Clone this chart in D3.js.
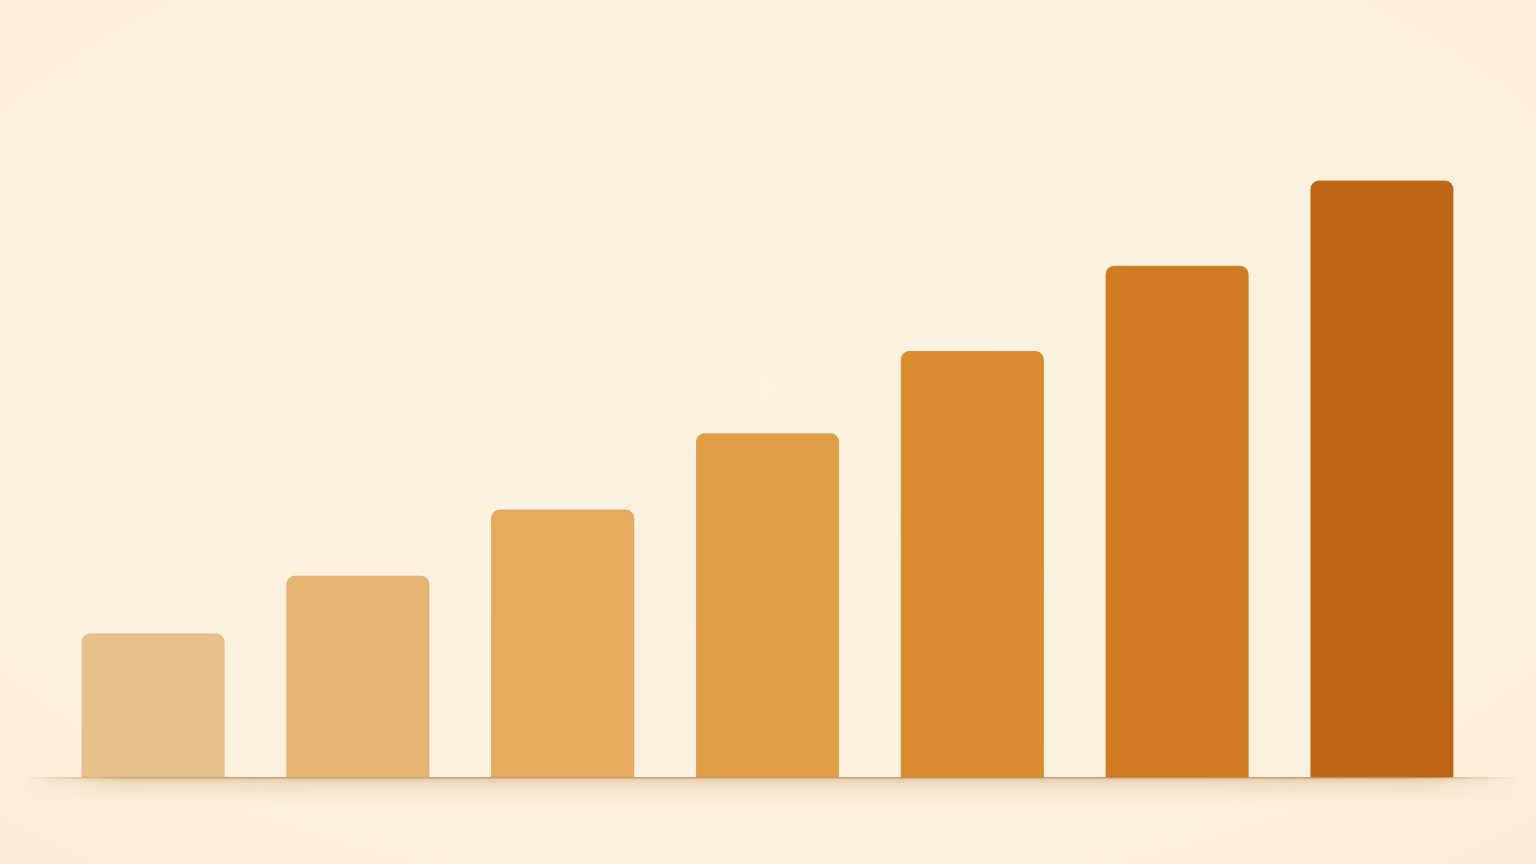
<!DOCTYPE html>
<html>
<head>
<meta charset="utf-8">
<script src="https://cdn.jsdelivr.net/npm/d3@7"></script>
<style>
html,body{margin:0;padding:0;background:#fdf1df;overflow:hidden;}
svg{display:block;}
</style>
</head>
<body>
<svg id="chart" width="1536" height="864"></svg>
<script>
const categories = ["A","B","C","D","E","F","G"];
const values = [24.0, 33.7, 44.8, 57.6, 71.4, 85.7, 100];
const colors = ["#e8c189","#e7b673","#e5aa5b","#e29e47","#da8b2e","#d07c21","#bf6614"];

const W = 1536, H = 864;
const svg = d3.select("#chart");
const defs = svg.append("defs");

// background with very soft vignette
const rg = defs.append("radialGradient").attr("id","bg").attr("cx","50%").attr("cy","45%").attr("r","75%");
rg.append("stop").attr("offset","0%").attr("stop-color","#fdf2e1");
rg.append("stop").attr("offset","75%").attr("stop-color","#fcf0de");
rg.append("stop").attr("offset","100%").attr("stop-color","#faecd8");
svg.append("rect").attr("width",W).attr("height",H).attr("fill","url(#bg)");

const x = d3.scaleBand().domain(categories).range([82,1453]).paddingInner(0.306).paddingOuter(0);
const y = d3.scaleLinear().domain([0,100]).range([777,181]);

// ground shadow
const sg = defs.append("linearGradient").attr("id","shadow").attr("x1","0").attr("y1","0").attr("x2","0").attr("y2","1");
sg.append("stop").attr("offset","0%").attr("stop-color","#c49a68").attr("stop-opacity",0.5);
sg.append("stop").attr("offset","25%").attr("stop-color","#d8b58a").attr("stop-opacity",0.3);
sg.append("stop").attr("offset","100%").attr("stop-color","#f6e6cf").attr("stop-opacity",0);
const hfade = defs.append("linearGradient").attr("id","hfade").attr("x1","0").attr("x2","1");
hfade.append("stop").attr("offset","0%").attr("stop-color","#fff").attr("stop-opacity",0);
hfade.append("stop").attr("offset","7%").attr("stop-color","#fff").attr("stop-opacity",1);
hfade.append("stop").attr("offset","93%").attr("stop-color","#fff").attr("stop-opacity",1);
hfade.append("stop").attr("offset","100%").attr("stop-color","#fff").attr("stop-opacity",0);
const mask = defs.append("mask").attr("id","fadeMask");
mask.append("rect").attr("x",20).attr("y",700).attr("width",1500).attr("height",150).attr("fill","url(#hfade)");

const ground = svg.append("g").attr("mask","url(#fadeMask)");
ground.append("rect").attr("x",25).attr("y",y(0)).attr("width",1490).attr("height",30).attr("fill","url(#shadow)");
ground.append("rect").attr("x",25).attr("y",y(0)).attr("width",1490).attr("height",1.5).attr("fill","#b08656").attr("opacity",0.6);

const r = 8;
function barPath(d,i){
  const x0 = x(categories[i]), x1 = x0 + x.bandwidth();
  const yt = y(d), yb = y(0);
  return `M${x0},${yb} L${x0},${yt+r} A${r},${r} 0 0 1 ${x0+r},${yt} L${x1-r},${yt} A${r},${r} 0 0 1 ${x1},${yt+r} L${x1},${yb} Z`;
}

svg.append("g").selectAll("path.bar").data(values).join("path")
  .attr("class","bar")
  .attr("d",(d,i)=>barPath(d,i))
  .attr("fill",(d,i)=>colors[i])
  .attr("stroke",(d,i)=>d3.color(colors[i]).darker(0.2))
  .attr("stroke-width",0.7);
</script>
</body>
</html>
